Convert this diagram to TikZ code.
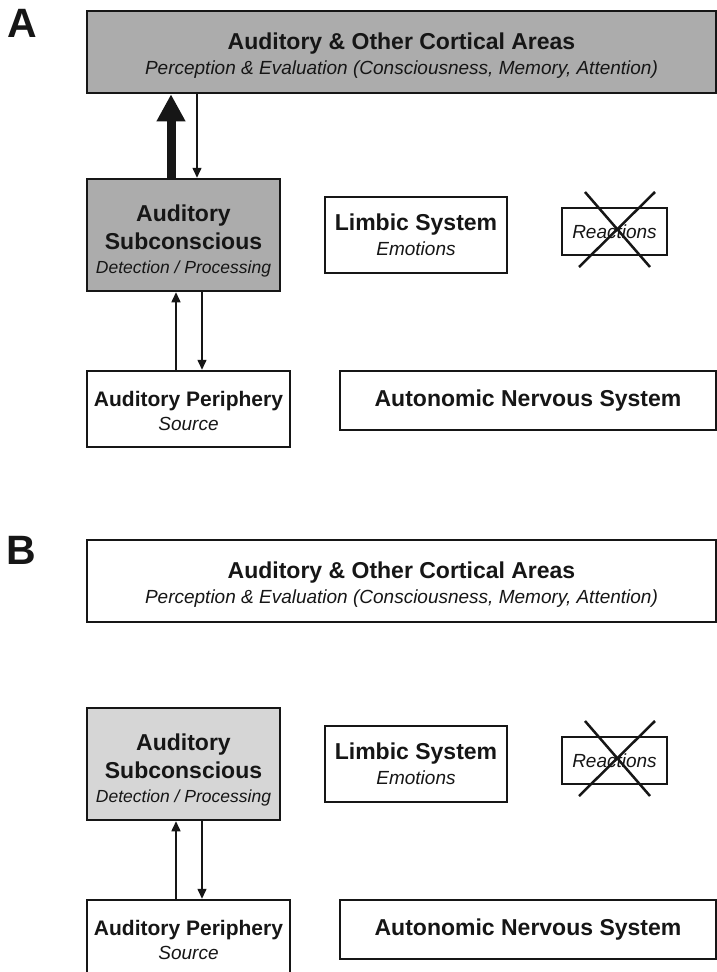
\documentclass[tikz,border=0pt]{standalone}
\usepackage{fontspec}
\setmainfont{Liberation Sans}
\usetikzlibrary{calc,arrows.meta}
\definecolor{darkfill}{RGB}{172,172,172}
\definecolor{lightfill}{RGB}{214,214,214}
\definecolor{ink}{RGB}{22,22,22}
\tikzset{
	box/.style={draw=ink,line width=2.5pt,rectangle,inner sep=0pt,align=center,text=ink,font=\fontsize{19}{25}\selectfont\itshape},%
	shaded/.style={box,fill=darkfill},%
	paleshaded/.style={box,fill=lightfill},%
	crossline/.style={draw=ink,line width=2.5pt},%
	signal/.style={draw=ink,line width=1.5pt,-{Triangle[width=9pt,length=10pt]}},%
	mainsignal/.style={draw=ink,line width=9pt,-{Triangle[width=27pt,length=27pt]}},%
	panellabel/.style={font=\fontsize{41}{41}\selectfont\bfseries,text=ink,inner sep=0pt},%
}
\newcommand{\boxtitle}[1]{{\fontsize{23}{25}\selectfont\bfseries\upshape #1}}
\newcommand{\smalltitle}[1]{{\fontsize{21}{25}\selectfont\bfseries\upshape #1}}
\newcommand{\smallsub}[1]{{\fontsize{17.5}{24}\selectfont #1}}
\newcommand{\topgap}[1]{\rule{0pt}{#1}}
\def\panelshift{529}

\begin{document}
\begin{tikzpicture}[%
		x=1pt,y=-1pt,%
		]
		\useasboundingbox (0,0) rectangle (717,972);
		\fill[white] (0,0) rectangle (717,972);
		\clip (0,0) rectangle (717,972);
		% panel A
		\node[panellabel] (labA) at (22.5,23) {A};
		\node[shaded,minimum width=629pt,minimum height=82pt] (cortA) at (401.5,52) {\topgap{23pt}\boxtitle{Auditory \& Other Cortical Areas}\\Perception \& Evaluation (Consciousness, Memory, Attention)};
		\node[shaded,minimum width=193pt,minimum height=112pt] (subA) at (183.5,235) {\topgap{28pt}\boxtitle{Auditory}\\[3pt]\boxtitle{Subconscious}\\[-1pt]\smallsub{Detection / Processing}};
		\node[box,minimum width=203pt,minimum height=76pt] (perA) at (188.5,409) {\topgap{19pt}\smalltitle{Auditory Periphery}\\[-1pt]Source};
		\node[box,minimum width=182pt,minimum height=76pt] (limA) at (416,235) {\boxtitle{Limbic System}\\Emotions};
		\node[box,minimum width=105pt,minimum height=47pt] (reactA) at (614.5,231.5) {Reactions};
		\node[box,minimum width=376pt,minimum height=59pt] (ansA) at (528,400.5) {\boxtitle{Autonomic Nervous System}};
		\coordinate (riseA) at (171,0);
		\coordinate (fallA) at (197,0);
		\coordinate (upA) at (176,0);
		\coordinate (downA) at (202,0);
		\draw[mainsignal] (subA.north -| riseA) -- (cortA.south -| riseA);
		\draw[signal] (cortA.south -| fallA) -- (subA.north -| fallA);
		\draw[signal] (perA.north -| upA) -- (subA.south -| upA);
		\draw[signal] (subA.south -| downA) -- (perA.north -| downA);
		\draw[crossline] ($(reactA.center)+(-29.5,-39.5)$) -- ($(reactA.center)+(35.5,35.5)$);
		\draw[crossline] ($(reactA.center)+(40.5,-39.5)$) -- ($(reactA.center)+(-35.5,35.5)$);
		% panel B
		\begin{scope}[shift={(0,\panelshift)}]
		\node[panellabel] (labB) at (21.5,21) {B};
		\node[box,minimum width=629pt,minimum height=82pt] (cortB) at (401.5,52) {\topgap{23pt}\boxtitle{Auditory \& Other Cortical Areas}\\Perception \& Evaluation (Consciousness, Memory, Attention)};
		\node[paleshaded,minimum width=193pt,minimum height=112pt] (subB) at (183.5,235) {\topgap{28pt}\boxtitle{Auditory}\\[3pt]\boxtitle{Subconscious}\\[-1pt]\smallsub{Detection / Processing}};
		\node[box,minimum width=203pt,minimum height=76pt] (perB) at (188.5,409) {\topgap{19pt}\smalltitle{Auditory Periphery}\\[-1pt]Source};
		\node[box,minimum width=182pt,minimum height=76pt] (limB) at (416,235) {\boxtitle{Limbic System}\\Emotions};
		\node[box,minimum width=105pt,minimum height=47pt] (reactB) at (614.5,231.5) {Reactions};
		\node[box,minimum width=376pt,minimum height=59pt] (ansB) at (528,400.5) {\boxtitle{Autonomic Nervous System}};
		\coordinate (upB) at (176,0);
		\coordinate (downB) at (202,0);
		\draw[signal] (perB.north -| upB) -- (subB.south -| upB);
		\draw[signal] (subB.south -| downB) -- (perB.north -| downB);
		\draw[crossline] ($(reactB.center)+(-29.5,-39.5)$) -- ($(reactB.center)+(35.5,35.5)$);
		\draw[crossline] ($(reactB.center)+(40.5,-39.5)$) -- ($(reactB.center)+(-35.5,35.5)$);
		\end{scope}
	\end{tikzpicture}
\end{document}
